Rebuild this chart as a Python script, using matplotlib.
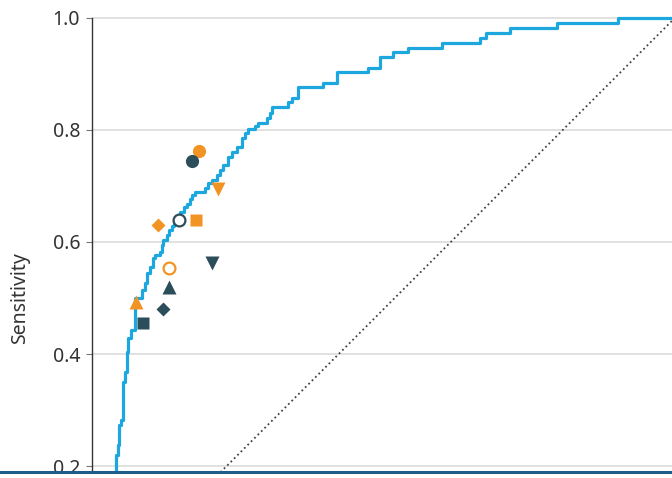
import matplotlib
matplotlib.use('Agg')
import matplotlib.pyplot as plt
from matplotlib.lines import Line2D

plt.rcParams['font.family'] = ['Noto Sans', 'DejaVu Sans']

# ROC curve corners (false positive rate, sensitivity), top of each vertical step
fpr = [0.0, 0.0029, 0.0064, 0.0082, 0.0107, 0.0143, 0.0189, 0.0214, 0.0243, 0.0291,
       0.0363, 0.0482, 0.0541, 0.0571, 0.0630, 0.0689, 0.0720, 0.0809, 0.0839, 0.0868,
       0.0929, 0.0975, 0.1018, 0.1064, 0.1118, 0.1166, 0.1237, 0.1286, 0.1345, 0.1375,
       0.1434, 0.1613, 0.1671, 0.1732, 0.1821, 0.1880, 0.1939, 0.2029, 0.2089, 0.2179,
       0.2268, 0.2327, 0.2386, 0.2505, 0.2564, 0.2714, 0.2773, 0.2804, 0.3100, 0.3161,
       0.3273, 0.3725, 0.3964, 0.4529, 0.4738, 0.4975, 0.5243, 0.5839, 0.6523, 0.6630,
       0.7059, 0.7893, 0.8993, 1.0]
tpr = [0.0, 0.2196, 0.2375, 0.2732, 0.2821, 0.3505, 0.3684, 0.4041, 0.4280, 0.4429,
       0.4995, 0.5143, 0.5263, 0.5441, 0.5559, 0.5709, 0.5768, 0.5827, 0.5946, 0.6036,
       0.6125, 0.6214, 0.6286, 0.6380, 0.6452, 0.6541, 0.6620, 0.6679, 0.6762, 0.6839,
       0.6898, 0.6959, 0.7048, 0.7107, 0.7196, 0.7286, 0.7375, 0.7523, 0.7613, 0.7702,
       0.7852, 0.7952, 0.8012, 0.8071, 0.8120, 0.8209, 0.8298, 0.8416, 0.8505, 0.8566,
       0.8773, 0.8845, 0.9030, 0.9102, 0.9309, 0.9384, 0.9464, 0.9559, 0.9638, 0.9727,
       0.9813, 0.9902, 1.0, 1.0]

# individual readers / criteria (1 - specificity, sensitivity)
pts_x = [0.1505, 0.1375, 0.1839, 0.1154, 0.1452, 0.0768, 0.0975, 0.1743, 0.0975, 0.0380, 0.0868, 0.0511]
pts_y = [0.7625, 0.7446, 0.6941, 0.6393, 0.6393, 0.6309, 0.5530, 0.5620, 0.5202, 0.4934, 0.4804, 0.4559]
pts_marker = ['o', 'o', 'v', 'o', 's', 'D', 'o', 'v', '^', '^', 'D', 's']
pts_group = ['or', 'dk', 'or', 'dk', 'or', 'or', 'or', 'dk', 'dk', 'or', 'dk', 'dk']
pts_open = [False, False, False, True, False, False, True, False, False, False, False, False]

yticks = [0.2, 0.4, 0.6, 0.8, 1.0]

ORANGE = '#F29424'
DARK = '#2C4D5A'
CURVE = '#1CA7DE'
msize = {'o': 9.5, 's': 8.8, 'D': 7.0, '^': 10.5, 'v': 10.5}

fig = plt.figure(figsize=(6.72, 4.78), dpi=100)
ax = fig.add_axes([92 / 672, 6 / 478, 1 - 92 / 672, 472 / 478])
ax.set_xlim(-0.0405, 0.995)
ax.set_ylim(0.1893, 1.0321)

for y in yticks:
    ax.axhline(y, color='#dcdcdc', lw=1.2, zorder=0)

ax.plot([0, 1], [0, 1], ls=':', color='#444444', lw=1.3, zorder=1)
ax.step(fpr, tpr, where='post', color=CURVE, lw=2.3, zorder=2)

for x, y, m, g, o in zip(pts_x, pts_y, pts_marker, pts_group, pts_open):
    c = ORANGE if g == 'or' else DARK
    if o:
        ax.plot(x, y, m, ms=msize[m] - 1, mfc='white', mec=c, mew=1.6, zorder=3)
    else:
        ax.plot(x, y, m, ms=msize[m], mfc=c, mec='none', zorder=3)

ax.set_yticks(yticks)
ax.set_yticklabels([f'{v:.1f}' for v in yticks])
ax.set_xticks([])
ax.tick_params(axis='y', length=4.5, width=0.8, color='#777777', pad=4,
               labelsize=14, labelcolor='#333333')
for s in ['top', 'right', 'bottom']:
    ax.spines[s].set_visible(False)
ax.spines['left'].set_color('#333333')
ax.spines['left'].set_linewidth(1.0)
ax.spines['left'].set_bounds(0.1893, 1.0)

fig.text(20 / 672, 1 - 298.5 / 478, 'Sensitivity', rotation=90, ha='center', va='center',
         fontsize=14, color='#333333')

# rule along the bottom edge
fig.add_artist(Line2D([0, 1], [1 - 472 / 478] * 2, transform=fig.transFigure,
                      color='#1F5B87', lw=2.2))

fig.savefig('out.png', dpi=100)
